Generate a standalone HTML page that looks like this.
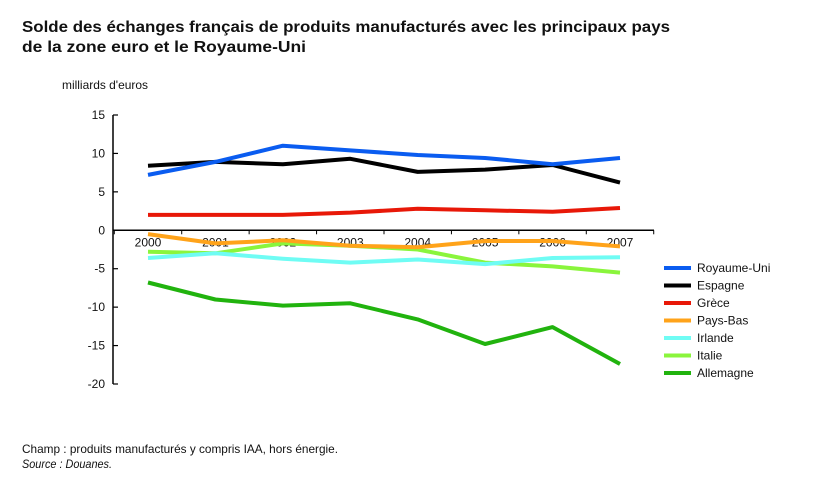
<!DOCTYPE html>
<html><head><meta charset="utf-8"><style>
html,body{margin:0;padding:0;background:#fff;}
svg{display:block;font-family:"Liberation Sans",sans-serif;}
</style></head><body>
<svg id="chart" width="817" height="489" viewBox="0 0 817 489">
<text x="22" y="32" font-size="16" font-weight="bold" textLength="648" lengthAdjust="spacingAndGlyphs" fill="#111">Solde des échanges français de produits manufacturés avec les principaux pays</text>
<text x="22" y="52" font-size="16" font-weight="bold" textLength="284" lengthAdjust="spacingAndGlyphs" fill="#111">de la zone euro et le Royaume-Uni</text>
<text x="62" y="89" font-size="12" fill="#111" textLength="86" lengthAdjust="spacingAndGlyphs">milliards d'euros</text>
<g id="axes"></g>
<g id="series"></g>
<g id="legend"></g>
<text x="22" y="453" font-size="12" fill="#111" textLength="316" lengthAdjust="spacingAndGlyphs">Champ : produits manufacturés y compris IAA, hors énergie.</text>
<text x="22" y="468" font-size="12" font-style="italic" fill="#111" textLength="90" lengthAdjust="spacingAndGlyphs">Source : Douanes.</text>
</svg>
<script>
const years = ["2000","2001","2002","2003","2004","2005","2006","2007"];
const yTicks = [15,10,5,0,-5,-10,-15,-20];
const seriesNames = ["Royaume-Uni","Espagne","Grèce","Pays-Bas","Irlande","Italie","Allemagne"];
const seriesColors = ["#0a5cf0","#000000","#e81808","#ffa31a","#6ffcf4","#8af53c","#21b30e"];
const royaumeUni = [7.2,8.9,11.0,10.4,9.8,9.4,8.6,9.4];
const espagne = [8.4,8.9,8.6,9.3,7.6,7.9,8.5,6.2];
const grece = [2.0,2.0,2.0,2.3,2.8,2.6,2.4,2.9];
const paysBas = [-0.5,-1.7,-1.3,-2.0,-2.2,-1.4,-1.4,-2.1];
const irlande = [-3.6,-3.0,-3.7,-4.2,-3.8,-4.4,-3.6,-3.5];
const italie = [-2.8,-3.0,-1.7,-2.0,-2.5,-4.2,-4.7,-5.5];
const allemagne = [-6.8,-9.0,-9.8,-9.5,-11.6,-14.8,-12.6,-17.4];
const seriesData = [royaumeUni,espagne,grece,paysBas,irlande,italie,allemagne];
// draw order (Royaume-Uni on top)
const drawOrder = [6,5,4,3,2,1,0];

const NS="http://www.w3.org/2000/svg";
const yMax=15,yMin=-20,yTop=115,yBot=384;
function yScale(v){return yTop+(yMax-v)/(yMax-yMin)*(yBot-yTop);}
const x0=148,x1=620;
function xScale(i){return x0+i*(x1-x0)/(years.length-1);}
function mk(tag,attrs,parent){const e=document.createElementNS(NS,tag);for(const k in attrs)e.setAttribute(k,attrs[k]);parent.appendChild(e);return e;}

const axes=document.getElementById('axes');
const yAxis=mk('line',{x1:113,y1:yTop,x2:113,y2:yBot,stroke:'#000','stroke-width':1.5},axes);


yTicks.forEach(t=>{
  const y=yScale(t);
  const tk=mk('line',{x1:113,y1:y,x2:118,y2:y,stroke:'#000','stroke-width':1.2},axes);
  
  
  const lb=mk('text',{x:105,y:y+4,'font-size':12,'text-anchor':'end',fill:'#111'},axes);
  lb.textContent=String(t);
  
  
});
const zy=yScale(0);
const xAxis=mk('line',{x1:113,y1:zy,x2:654,y2:zy,stroke:'#000','stroke-width':1.5},axes);


const step=(x1-x0)/(years.length-1);
for(let i=0;i<=years.length;i++){
  const x=x0-step/2+i*step;
  const tk=mk('line',{x1:x,y1:zy,x2:x,y2:zy+4,stroke:'#000','stroke-width':1},axes);
  
  
}
years.forEach((yr,i)=>{
  const lb=mk('text',{x:xScale(i),y:zy+16,'font-size':12,'text-anchor':'middle',fill:'#111'},axes);
  lb.textContent=yr;
  
  
});

const sg=document.getElementById('series');
drawOrder.forEach(si=>{
  const pts=seriesData[si].map((v,i)=>xScale(i).toFixed(1)+','+yScale(v).toFixed(1)).join(' ');
  const pl=mk('polyline',{points:pts,fill:'none',stroke:seriesColors[si],'stroke-width':4,'stroke-linejoin':'round'},sg);
  
  
});

const lg=document.getElementById('legend');
seriesNames.forEach((n,i)=>{
  const y=268+i*17.5;
  const g=mk('g',{},lg);
  
  
  mk('line',{x1:664,y1:y,x2:691,y2:y,stroke:seriesColors[i],'stroke-width':4},g);
  const t=mk('text',{x:697,y:y+4,'font-size':12,fill:'#111'},g);
  t.textContent=n;
});
</script>
</body></html>
